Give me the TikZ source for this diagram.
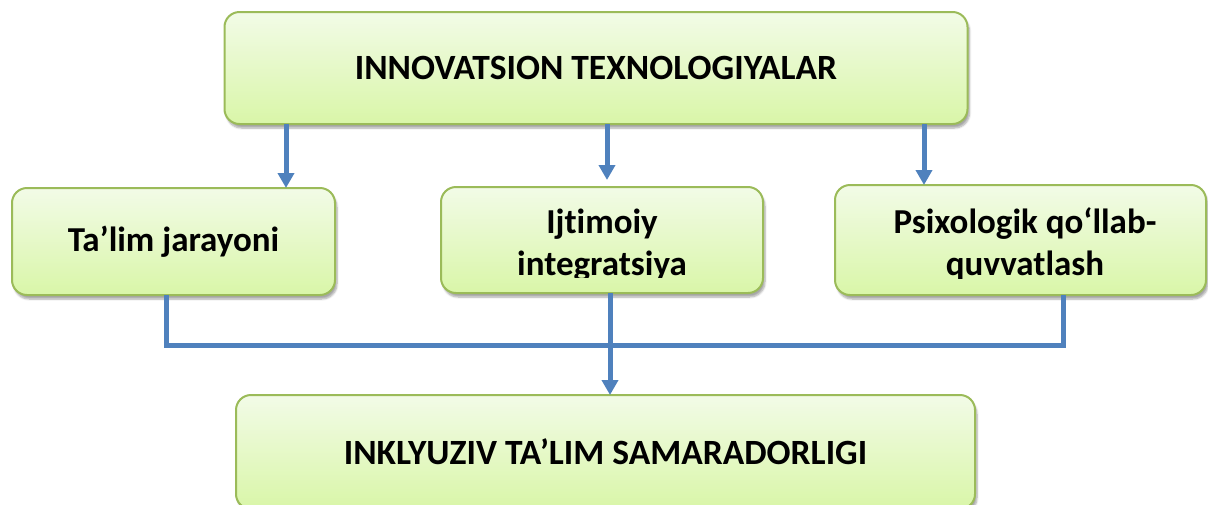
\documentclass[tikz,border=0pt]{standalone}
\usepackage{fontspec}
\setmainfont{Carlito}[Ligatures={NoCommon}]
\usetikzlibrary{arrows.meta,shadows.blur}
\definecolor{boxborder}{HTML}{9BBB59}
\definecolor{boxtop}{HTML}{F2FBE7}
\definecolor{boxbot}{HTML}{D9F6A8}
\definecolor{linkblue}{HTML}{4F81BD}
\tikzset{
  greenbox/.style={draw=boxborder, line width=2pt, rounded corners=15pt,
    top color=boxtop, bottom color=boxbot, inner sep=0pt, outer sep=0pt,
    blur shadow={shadow xshift=2pt, shadow yshift=-4pt, shadow blur steps=6, shadow opacity=35, shadow blur extra rounding=2pt}},
  boxtext/.style={font=\bfseries\fontsize{35.5}{42}\selectfont, inner sep=0pt},
  rowtext/.style={font=\bfseries\fontsize{35}{42}\selectfont, inner sep=0pt},
  link/.style={draw=linkblue, line width=5pt},
  arr/.style={link, -{Triangle[width=16pt,length=15pt]}},
}
\begin{document}
\begin{tikzpicture}[x=1pt,y=-1pt]
\useasboundingbox (0,0) rectangle (1208,504);
% boxes
\node[greenbox, minimum width=743pt, minimum height=112pt, boxtext] (T) at (596,68) {INNOVATSION TEXNOLOGIYALAR};
\node[greenbox, minimum width=323pt, minimum height=107pt, rowtext] (L) at (173.5,241.5) {Ta’lim jarayoni};
\node[greenbox, minimum width=322pt, minimum height=106pt] (M) at (602,240) {};
\node[greenbox, minimum width=371pt, minimum height=110pt] (R) at (1020.5,240) {};
\node[greenbox, minimum width=739pt, minimum height=114pt, boxtext] (B) at (605.5,452) {INKLYUZIV TA’LIM SAMARADORLIGI};
% clipped two-line texts
\begin{scope}
  \clip (441,187) rectangle (763,277);
  \node[rowtext, anchor=base] (m1) at (602,233) {Ijtimoiy};
  \node[rowtext, anchor=base] (m2) at (602,275) {integratsiya};
\end{scope}
\begin{scope}
  \clip (835,185) rectangle (1206,278);
  \node[rowtext, anchor=base] (r1) at (1025,233) {Psixologik qo‘llab-};
  \node[rowtext, anchor=base] (r2) at (1025,275) {quvvatlash};
\end{scope}
% connector guide coordinates
\coordinate (a1) at (286,0);
\coordinate (a2) at (607,0);
\coordinate (a3) at (924,0);
\coordinate (c1) at (166,0);
\coordinate (c3) at (1063,0);
\coordinate (j) at (610,345);
% arrows from top box
\draw[arr] (T.south -| a1) -- (L.north -| a1);
\draw[arr, shorten >=7pt] (T.south -| a2) -- (M.north -| a2);
\draw[arr] (T.south -| a3) -- (R.north -| a3);
% collecting line
\draw[link] (L.south -| c1) -- (c1 |- j) -- (c3 |- j) -- (R.south -| c3);
\draw[arr] (M.south -| j) -- (B.north -| j);
\end{tikzpicture}
\end{document}
